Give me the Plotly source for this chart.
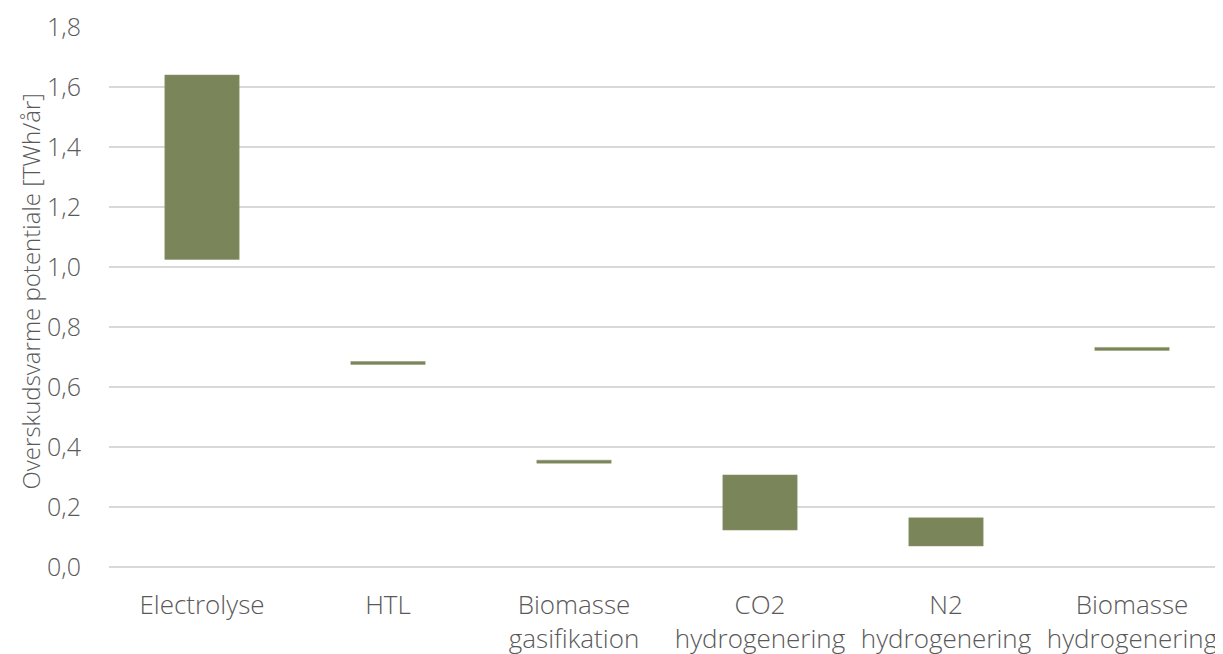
import plotly.graph_objects as go

categories = ["Electrolyse", "HTL", "Biomasse<br>gasifikation", "CO2<br>hydrogenering",
              "N2<br>hydrogenering", "Biomasse<br>hydrogenering"]
low_values = [1.025, 0.675, 0.346, 0.123, 0.070, 0.722]
high_values = [1.640, 0.685, 0.356, 0.307, 0.164, 0.732]
y_title = "Overskudsvarme potentiale [TWh/år]"

heights = [h - l for h, l in zip(high_values, low_values)]

fig = go.Figure(go.Bar(
    x=categories, y=heights, base=low_values,
    marker=dict(color="#7A8559", line=dict(color="#8C9670", width=0.5)),
    width=0.4, hoverinfo="skip",
))

font_family = "Open Sans, sans-serif"
fig.update_layout(
    width=1217, height=646,
    margin=dict(l=101, r=0, t=19, b=87),
    paper_bgcolor="white", plot_bgcolor="white",
    separators=",.",
    showlegend=False,
    font=dict(family=font_family, color="#595959", size=26, weight=300),
    xaxis=dict(showgrid=False, showline=False, ticks="", tickfont=dict(size=26, weight=300),
               ticklabelstandoff=20, automargin=False),
    yaxis=dict(range=[0, 1.8], dtick=0.2, tickformat=".1f", showgrid=True,
               gridcolor="#D9D9D9", gridwidth=1.5, zeroline=True, zerolinecolor="#D9D9D9",
               zerolinewidth=1.5, showline=False, ticks="", tickfont=dict(size=25, weight=300),
               ticklabelstandoff=27, automargin=False),
    annotations=[dict(text=y_title, textangle=-90, xref="paper", yref="paper",
                      x=0, y=0.5, xanchor="left", yanchor="middle", xshift=-98, yshift=5,
                      showarrow=False, font=dict(size=24, weight=300, color="#595959"))],
)

fig.write_html("out.html")
